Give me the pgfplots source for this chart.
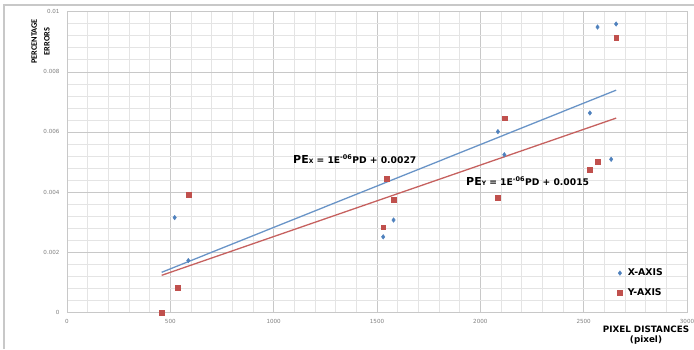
\documentclass[border=0pt]{standalone}
\usepackage{fontspec}
\setmainfont{Carlito}
\newfontfamily\dv{DejaVu Sans}
\usepackage{pgfplots}
\pgfplotsset{compat=1.18}
\definecolor{serblue}{HTML}{4F81BD}
\definecolor{serred}{HTML}{C0504D}
\definecolor{gmaj}{HTML}{C8C8C8}
\definecolor{gmin}{HTML}{E4E4E4}
\definecolor{tickgray}{HTML}{7F7F7F}
\begin{document}
\begin{tikzpicture}[x=1bp,y=1bp]
\useasboundingbox (0,0) rectangle (694,349);
\draw[gmaj, line width=1.5bp] (4,0) -- (4,344) -- (694,344);
\begin{axis}[
  at={(67bp,36.7bp)}, anchor=south west,
  scale only axis, width=620bp, height=300.6bp,
  xmin=0, xmax=3000, ymin=0, ymax=0.01,
  xtick={0,500,...,3000},
  ytick={0,0.002,0.004,0.006,0.008,0.01},
  yticklabels={0,0.002,0.004,0.006,0.008,0.01},
  minor x tick num=4, minor y tick num=4,
  grid=both,
  major grid style={draw=gmaj, line width=0.6bp},
  minor grid style={draw=gmin, line width=0.6bp},
  axis line style={draw=gmaj, line width=0.8bp},
  major tick length=0pt, minor tick length=0pt,
  scaled y ticks=false, scaled x ticks=false,
  /pgf/number format/assume math mode=true,
  /pgf/number format/1000 sep={},
  ticklabel style={font=\dv\fontsize{5.6bp}{6bp}\selectfont, text=tickgray},
  xticklabel style={yshift=-3.5bp},
  yticklabel style={xshift=-4bp},
  clip=false,
  legend style={at={(0.885,0.15)}, anchor=north west, draw=none, fill=none,
    font=\dv\bfseries\fontsize{9.3bp}{11bp}\selectfont, row sep=8bp,
    inner sep=0pt, nodes={inner sep=1.5bp}},
  legend cell align=left,
  legend image code/.code={\path[draw=none,fill=none] (-4bp,0bp) (6.5bp,0bp); \draw[#1] plot coordinates {(0bp,0bp)};},
]
% trendlines
\addplot[forget plot, serblue!85!white, line width=1.3bp] coordinates {(458,0.00133) (2657,0.00739)};
\addplot[forget plot, serred!90!white, line width=1.3bp] coordinates {(458,0.00123) (2657,0.00646)};
% X-AXIS series
\addplot[only marks, mark=diamond*, mark size=2.3bp, color=serblue] coordinates {
(521,0.00315) (587,0.00172) (1530,0.00251) (1580,0.00307) (2085,0.00601)
(2116,0.00524) (2530,0.00663) (2567,0.00949) (2633,0.00509) (2657,0.00959)};
\addlegendentry{X-AXIS}
% Y-AXIS series
\addplot[only marks, mark=square*, mark size=2.4bp, color=serred] coordinates {
(458,0) (537,0.00081) (589,0.00391) (1545,0.00444) (1530,0.00283)
(1580,0.00375) (2085,0.00380) (2118,0.00646) (2530,0.00475) (2567,0.00502)
(2657,0.00913)};
\addlegendentry{Y-AXIS}
\end{axis}
% equations
\node[anchor=base west, inner sep=0pt, font=\dv\bfseries] at (293,186) {{\fontsize{11bp}{12bp}\selectfont PE}{\fontsize{6bp}{6bp}\selectfont X}{\fontsize{9.2bp}{10bp}\selectfont{} = 1E\textsuperscript{-06}PD + 0.0027}};
\node[anchor=base west, inner sep=0pt, font=\dv\bfseries] at (466,163.5) {{\fontsize{11bp}{12bp}\selectfont PE}{\fontsize{6bp}{6bp}\selectfont Y}{\fontsize{9.2bp}{10bp}\selectfont{} = 1E\textsuperscript{-06}PD + 0.0015}};
% axis titles
\node[rotate=90, align=center, font=\bfseries\fontsize{8.3bp}{12.7bp}\selectfont, inner sep=0pt] at (40.5,307.5) {PERCENTAGE\\ERRORS};
\node[align=center, font=\dv\bfseries\fontsize{8.8bp}{10.3bp}\selectfont, inner sep=0pt] at (646,14) {PIXEL DISTANCES\\(pixel)};
\end{tikzpicture}
\end{document}
